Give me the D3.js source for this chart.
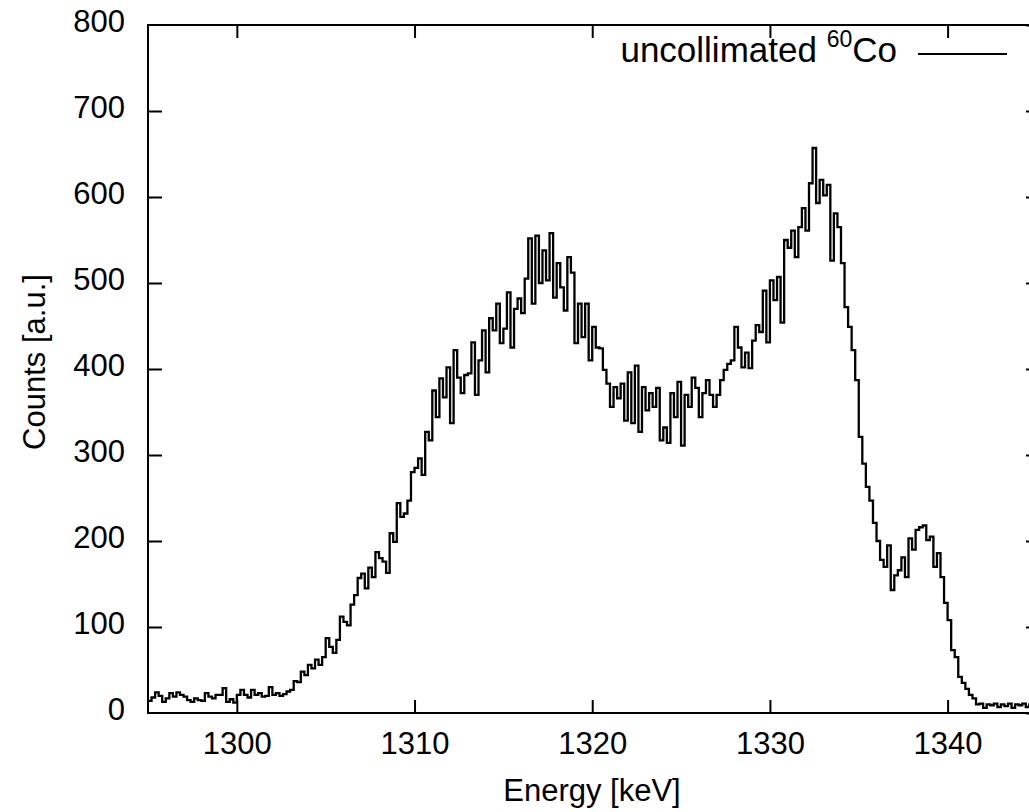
<!DOCTYPE html>
<html>
<head>
<meta charset="utf-8">
<script src="https://cdn.jsdelivr.net/npm/d3@7"></script>
<style>
  html, body { margin: 0; padding: 0; background: #fff; overflow: hidden; }
  svg { display: block; }
  text { font-family: "Liberation Sans", Arial, sans-serif; fill: #000; }
</style>
</head>
<body>
<svg id="chart" width="1029" height="812"></svg>
<script>
// ---- data ----
const binStart = 1295.0;   // keV, left edge of first bin
const binWidth = 0.2;      // keV
const counts = [
  14, 18, 24, 20, 13, 17, 23, 19, 24, 21,
  19, 15, 13, 17, 15, 14, 23, 19, 17, 21,
  21, 29, 13, 16, 12, 21, 27, 21, 18, 27,
  21, 23, 19, 20, 30, 21, 23, 20, 22, 25,
  27, 37, 36, 48, 44, 56, 52, 62, 56, 65,
  87, 77, 70, 85, 112, 106, 102, 126, 137, 157,
  162, 145, 169, 158, 187, 180, 176, 163, 209, 199,
  244, 228, 232, 247, 280, 285, 296, 277, 327, 317,
  375, 344, 389, 367, 402, 337, 422, 390, 372, 393,
  395, 431, 370, 410, 445, 396, 459, 445, 476, 430,
  447, 489, 425, 470, 482, 465, 505, 552, 476, 555,
  500, 538, 503, 558, 483, 523, 495, 468, 530, 512,
  430, 476, 437, 476, 410, 449, 425, 424, 399, 383,
  356, 379, 366, 383, 340, 396, 337, 404, 327, 379,
  352, 372, 356, 378, 317, 332, 314, 372, 344, 385,
  311, 370, 356, 390, 378, 344, 372, 387, 370, 356,
  370, 387, 399, 406, 410, 449, 425, 402, 419, 401,
  433, 451, 443, 491, 431, 503, 480, 507, 454, 550,
  541, 561, 530, 565, 587, 561, 616, 657, 593, 620,
  602, 614, 526, 581, 565, 523, 472, 449, 422, 387,
  321, 290, 263, 247, 221, 200, 178, 170, 195, 143,
  160, 166, 181, 158, 203, 190, 213, 216, 218, 201,
  205, 170, 186, 158, 128, 108, 73, 65, 42, 35,
  28, 21, 17, 10, 11, 6, 10, 9, 11, 7,
  10, 8, 11, 6, 10, 9, 11, 7, 10, 9
];
const xTicks = [1300, 1310, 1320, 1330, 1340];
const yTicks = [0, 100, 200, 300, 400, 500, 600, 700, 800];
const xDomain = [1295, 1345.2];
const yDomain = [0, 800];
const xLabel = "Energy [keV]";
const yLabel = "Counts [a.u.]";
const legendMain = "uncollimated ";
const legendSup = "60";
const legendEnd = "Co";

// ---- layout ----
const L = 148, R = 1040, T = 25, B = 713;
const svg = d3.select("#chart");
const x = d3.scaleLinear().domain(xDomain).range([L, R]);
const y = d3.scaleLinear().domain(yDomain).range([B, T]);

// histogram points (step after, bin edges)
const pts = counts.map((c, i) => [binStart + i * binWidth, c]);
pts.push([binStart + counts.length * binWidth, counts[counts.length - 1]]);

const line = d3.line()
  .x(d => x(d[0]))
  .y(d => y(d[1]))
  .curve(d3.curveStepAfter);

svg.append("path")
  .datum(pts)
  .attr("d", line)
  .attr("fill", "none")
  .attr("stroke", "#000")
  .attr("stroke-width", 2.3)
  .attr("stroke-linejoin", "miter");

// axes
const fs = 31;
const gx = svg.append("g").attr("transform", `translate(0,${B})`)
  .call(d3.axisBottom(x).tickValues(xTicks).tickSize(-13).tickSizeOuter(0).tickPadding(19).tickFormat(d3.format("d")));
const gxt = svg.append("g").attr("transform", `translate(0,${T})`)
  .call(d3.axisTop(x).tickValues(xTicks).tickSize(-13).tickSizeOuter(0).tickFormat(""));
const gy = svg.append("g").attr("transform", `translate(${L},0)`)
  .call(d3.axisLeft(y).tickValues(yTicks).tickSize(-14).tickSizeOuter(0).tickPadding(23).tickFormat(d3.format("d")));
const gyr = svg.append("g").attr("transform", `translate(${R},0)`)
  .call(d3.axisRight(y).tickValues(yTicks).tickSize(-14).tickSizeOuter(0).tickFormat(""));

[gx, gxt, gy, gyr].forEach(g => {
  g.select(".domain").remove();
  g.selectAll(".tick line").attr("stroke", "#000").attr("stroke-width", 2);
  g.selectAll(".tick text")
    .attr("font-family", "Liberation Sans, Arial, sans-serif")
    .attr("font-size", fs).attr("fill", "#000");
});
gy.selectAll(".tick text").attr("dy", "0.22em");
gy.selectAll(".tick").filter(d => d === 0 || d === 800).select("line").remove();

// frame
svg.append("rect")
  .attr("x", L).attr("y", T)
  .attr("width", R - L).attr("height", B - T)
  .attr("fill", "none").attr("stroke", "#000").attr("stroke-width", 2);

// axis titles
svg.append("text")
  .attr("x", 592).attr("y", 801)
  .attr("text-anchor", "middle")
  .attr("font-size", fs)
  .text(xLabel);

svg.append("text")
  .attr("transform", "translate(45,362) rotate(-90)")
  .attr("text-anchor", "middle")
  .attr("font-size", fs)
  .text(yLabel);

// legend
const lg = svg.append("text")
  .attr("x", 897).attr("y", 62)
  .attr("text-anchor", "end")
  .attr("font-size", 35);
lg.append("tspan").text(legendMain);
lg.append("tspan").attr("font-size", 23).attr("dy", -15).text(legendSup);
lg.append("tspan").attr("dy", 15).text(legendEnd);

svg.append("line")
  .attr("x1", 918).attr("x2", 1007)
  .attr("y1", 54).attr("y2", 54)
  .attr("stroke", "#000").attr("stroke-width", 2);
</script>
</body>
</html>
